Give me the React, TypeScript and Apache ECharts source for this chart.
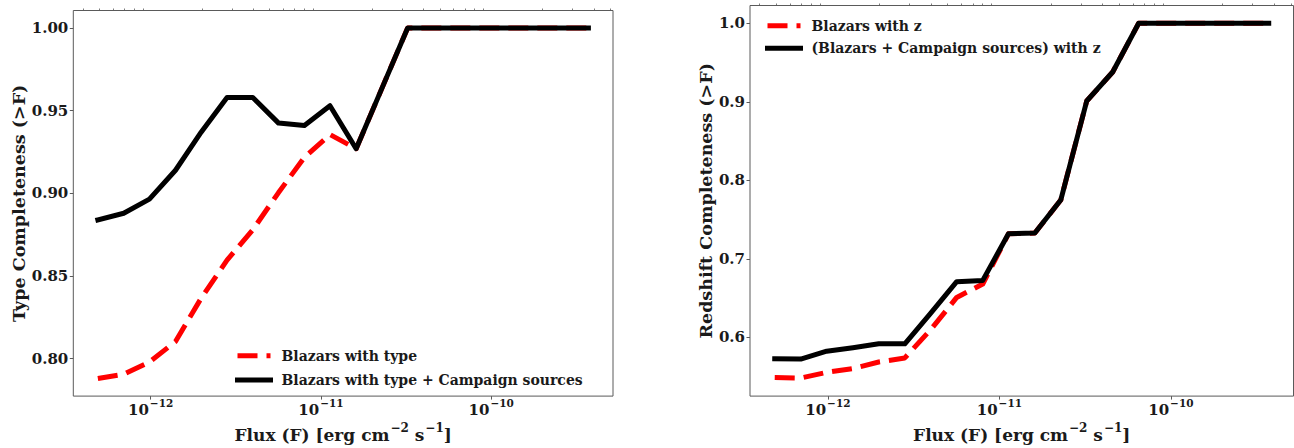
import React, { useEffect, useRef } from "react";
import * as echarts from "echarts";

// ---- data ----
const FLUX = [
  4.9e-13, 6.95e-13, 9.84e-13, 1.4e-12, 1.98e-12, 2.81e-12, 3.98e-12, 5.64e-12, 8.0e-12, 1.13e-11,
  1.61e-11, 2.28e-11, 3.23e-11, 4.58e-11, 6.49e-11, 9.2e-11, 1.3e-10, 1.85e-10, 2.62e-10, 3.72e-10,
];
const TYPE_BLAZARS = [
  0.788, 0.7906, 0.798, 0.8104, 0.8366, 0.8596, 0.878, 0.9005, 0.9218, 0.9356,
  0.927, 0.9635, 1.0, 1.0, 1.0, 1.0, 1.0, 1.0, 1.0, 1.0,
];
const TYPE_BLAZARS_CAMPAIGN = [
  0.884, 0.888, 0.8965, 0.914, 0.937, 0.958, 0.958, 0.9425, 0.941, 0.953,
  0.927, 0.9635, 1.0, 1.0, 1.0, 1.0, 1.0, 1.0, 1.0, 1.0,
];
const Z_BLAZARS = [
  0.549, 0.5484, 0.5556, 0.5605, 0.5688, 0.574, 0.61, 0.651, 0.668, 0.732,
  0.733, 0.775, 0.901, 0.938, 1.0, 1.0, 1.0, 1.0, 1.0, 1.0,
];
const Z_BLAZARS_CAMPAIGN = [
  0.573, 0.5726, 0.5826, 0.587, 0.592, 0.592, 0.631, 0.671, 0.6727, 0.732,
  0.733, 0.775, 0.901, 0.938, 1.0, 1.0, 1.0, 1.0, 1.0, 1.0,
];
const X_MAJOR_EXPONENTS = [-12, -11, -10];
const MINOR_MULTIPLIERS = [2, 3, 4, 5, 6, 7, 8, 9];
const MINOR_DECADES = [-13, -12, -11, -10];
const Y_TICKS_TYPE = [0.8, 0.85, 0.9, 0.95, 1.0];
const Y_TICKS_Z = [0.6, 0.7, 0.8, 0.9, 1.0];
const NAMES = {
  typeB: "Blazars with type",
  typeBC: "Blazars with type + Campaign sources",
  zB: "Blazars with z",
  zBC: "(Blazars + Campaign sources) with z",
};

const FONT = "'DejaVu Serif', serif";
const TXT = "#1a1a1a";
const FRAME = "#5a5a5a";
const X_MIN = -12.454;
const X_MAX = -9.285;

const minorTicks: number[] = [];
MINOR_DECADES.forEach((d) =>
  MINOR_MULTIPLIERS.forEach((k) => {
    const v = d + Math.log10(k);
    if (v > X_MIN && v < X_MAX) minorTicks.push(v);
  })
);

const pairs = (ys: number[]) => FLUX.map((f, i) => [Math.log10(f), ys[i]]);

const expLabel = (v: number) => {
  const e = Math.round(v);
  return `{b|10}{s|${e < 0 ? "\u2212" + Math.abs(e) : e}}`;
};

const xRich = {
  b: { fontSize: 15, fontWeight: "bold", fontFamily: FONT, color: TXT, verticalAlign: "bottom", lineHeight: 17 },
  s: { fontSize: 10.5, fontWeight: "bold", fontFamily: FONT, color: TXT, verticalAlign: "bottom", lineHeight: 12, padding: [0, 0, 9, 1] },
};
const nameRich = {
  n: { fontSize: 17, fontWeight: "bold", fontFamily: FONT, color: TXT, verticalAlign: "bottom", lineHeight: 20 },
  s: { fontSize: 12, fontWeight: "bold", fontFamily: FONT, color: TXT, verticalAlign: "bottom", lineHeight: 13, padding: [0, 0, 9, 1] },
};
const X_NAME = "{n|Flux (F) [erg cm}{s|\u22122}{n| s}{s|\u22121}{n|]}";

function xAxes(gridIndex: number) {
  return [
    {
      type: "value",
      gridIndex,
      min: X_MIN,
      max: X_MAX,
      axisLine: { show: false },
      splitLine: { show: false },
      axisTick: { show: true, inside: false, length: 3.5, customValues: X_MAJOR_EXPONENTS, lineStyle: { color: FRAME, width: 1 } },
      axisLabel: { show: true, customValues: X_MAJOR_EXPONENTS, formatter: expLabel, rich: xRich, margin: 4 },
      name: X_NAME,
      nameLocation: "middle",
      nameGap: 25,
      nameTextStyle: { rich: nameRich },
    },
    {
      type: "value",
      gridIndex,
      min: X_MIN,
      max: X_MAX,
      axisLine: { show: false },
      splitLine: { show: false },
      axisTick: { show: true, inside: false, length: 2, customValues: minorTicks, lineStyle: { color: FRAME, width: 0.8 } },
      axisLabel: { show: false },
    },
  ];
}

function yAxis(gridIndex: number, min: number, max: number, ticks: number[], digits: number, name: string, gap: number) {
  return {
    type: "value",
    gridIndex,
    min,
    max,
    axisLine: { show: false },
    splitLine: { show: false },
    axisTick: { show: true, inside: false, length: 3.5, customValues: ticks, lineStyle: { color: FRAME, width: 1 } },
    axisLabel: {
      show: true,
      customValues: ticks,
      formatter: (v: number) => v.toFixed(digits),
      fontSize: 15,
      fontWeight: "bold",
      fontFamily: FONT,
      color: TXT,
      margin: 5,
    },
    name,
    nameLocation: "middle",
    nameRotate: 90,
    nameGap: gap,
    nameTextStyle: { fontSize: 17.5, fontWeight: "bold", fontFamily: FONT, color: TXT },
  };
}

const redLine = { color: "#ff0000", width: 5, type: [20, 9], cap: "butt", join: "round" };
const blackLine = { color: "#000000", width: 5, type: "solid", cap: "square", join: "round" };

function series(name: string, xi: number, yi: number, ys: number[], style: any, z: number) {
  return {
    type: "line",
    name,
    xAxisIndex: xi,
    yAxisIndex: yi,
    data: pairs(ys),
    symbol: "none",
    showSymbol: false,
    lineStyle: style,
    itemStyle: { color: style.color },
    z,
    silent: true,
  };
}

function legend(left: number, top: number, names: string[], gap: number) {
  return {
    left,
    top,
    orient: "vertical",
    padding: 0,
    itemWidth: 33,
    itemHeight: 14,
    itemGap: gap,
    data: names,
    selectedMode: false,
    lineStyle: { width: 5 },
    itemStyle: { opacity: 0, borderWidth: 0, color: "rgba(0,0,0,0)" },
    textStyle: { fontSize: 14, fontWeight: "bold", fontFamily: FONT, color: TXT, lineHeight: 14, padding: [0, 0, 0, 6] },
  };
}

export default function App() {
  const ref = useRef<HTMLDivElement>(null);
  useEffect(() => {
    if (!ref.current) return;
    const chart = echarts.init(ref.current, undefined, { renderer: "svg" });
    chart.setOption({
      animation: false,
      backgroundColor: "#ffffff",
      grid: [
        { left: 73.3, top: 10.5, width: 539.7, height: 393.5, show: true, borderColor: FRAME, borderWidth: 1, containLabel: false },
        { left: 750, top: 5.5, width: 543.5, height: 398.5, show: true, borderColor: FRAME, borderWidth: 1, containLabel: false },
      ],
      xAxis: [...xAxes(0), ...xAxes(1)],
      yAxis: [
        yAxis(0, 0.7774, 1.0106, Y_TICKS_TYPE, 2, "Type Completeness (>F)", 44),
        yAxis(1, 0.5254, 1.0226, Y_TICKS_Z, 1, "Redshift Completeness (>F)", 35),
      ],
      legend: [
        legend(235, 348.7, [NAMES.typeB, NAMES.typeBC], 10.3),
        legend(765, 18.7, [NAMES.zB, NAMES.zBC], 8.6),
      ],
      series: [
        series(NAMES.typeB, 0, 0, TYPE_BLAZARS, redLine, 2),
        series(NAMES.typeBC, 0, 0, TYPE_BLAZARS_CAMPAIGN, blackLine, 3),
        series(NAMES.zB, 2, 1, Z_BLAZARS, redLine, 2),
        series(NAMES.zBC, 2, 1, Z_BLAZARS_CAMPAIGN, blackLine, 3),
      ],
    });
    return () => chart.dispose();
  }, []);
  return <div ref={ref} style={{ position: "fixed", left: 0, top: 0, width: 1294, height: 448 }} />;
}
